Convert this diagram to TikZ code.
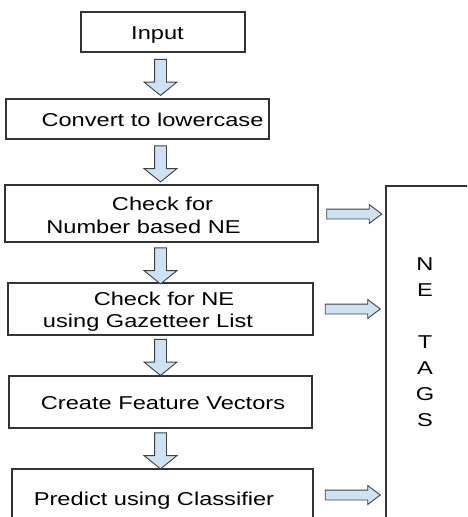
\documentclass[tikz,border=0pt]{standalone}
\usepackage{fontspec}
\setmainfont{Liberation Sans}[FakeStretch=1.27]
\usepackage{tikz}
\usetikzlibrary{shapes,arrows,positioning,calc}
\definecolor{arrowblue}{RGB}{207,226,243}

\begin{document}
\begin{tikzpicture}[x=1pt,y=-1pt,
		box/.style={draw=black!80, line width=1.1pt, inner sep=0pt},
		txt/.style={anchor=base, inner sep=0pt, font=\fontsize{18.6}{22}\selectfont},
		darrow/.style={single arrow, draw=black!75, fill=arrowblue, line width=0.9pt,
			rotate=-90, inner xsep=0pt, inner ysep=5.5pt, minimum height=36pt,
			single arrow head extend=10.5pt, single arrow tip angle=102},
		rarrow/.style={single arrow, draw=black!75, fill=arrowblue, line width=0.9pt,
			inner xsep=0pt, inner ysep=4.5pt, minimum height=55pt,
			single arrow head extend=4.5pt, single arrow tip angle=74}]
					\useasboundingbox (0,0) rectangle (467,517);
					\clip (0,0) rectangle (467,517);

					% boxes of the steps
					\node[box, minimum width=164pt, minimum height=40pt] (inp) at (163,32) {};
					\node[box, minimum width=263pt, minimum height=40pt] (lower) at (137.5,119) {};
					\node[box, minimum width=313pt, minimum height=57pt] (numne) at (161.5,213.5) {};
					\node[box, minimum width=305pt, minimum height=52pt] (gaz) at (160.5,309) {};
					\node[box, minimum width=303pt, minimum height=52pt] (feat) at (160.5,402) {};
					\node[box, minimum width=301pt, minimum height=58pt] (pred) at (162.5,498) {};
					\node[box, minimum width=94pt, minimum height=354pt] (tags) at (433,363) {};

					% texts
					\node[txt] (inp-txt) at (157.5,39) {Input};
					\node[txt] (lower-txt) at (152.5,126) {Convert to lowercase};
					\node[txt] (numne-txt1) at (162.5,210) {Check for};
					\node[txt] (numne-txt2) at (143.5,233) {Number based NE};
					\node[txt] (gaz-txt1) at (164,305) {Check for NE};
					\node[txt] (gaz-txt2) at (148,327) {using Gazetteer List};
					\node[txt] (feat-txt) at (163,409) {Create Feature Vectors};
					\node[txt] (pred-txt) at (154,505) {Predict using Classifier};
					\node[txt, anchor=north, align=center,
						font=\fontsize{18.6}{26}\selectfont] (tags-txt) at (425,257) {N\\E\\[26pt]T\\A\\G\\S};

					% arrows down
					\node[darrow] (d1) at (160.5,75) {};
					\node[darrow] (d2) at (160.5,161.5) {};
					\node[darrow] (d3) at (160.5,263.5) {};
					\node[darrow] (d4) at (160.5,355) {};
					\node[darrow] (d5) at (160.5,448.5) {};

					% arrows to the tags
					\node[rarrow] (r1) at (351,214) {};
					\node[rarrow] (r2) at (349.5,309) {};
					\node[rarrow] (r3) at (349.5,495) {};
				\end{tikzpicture}
\end{document}
